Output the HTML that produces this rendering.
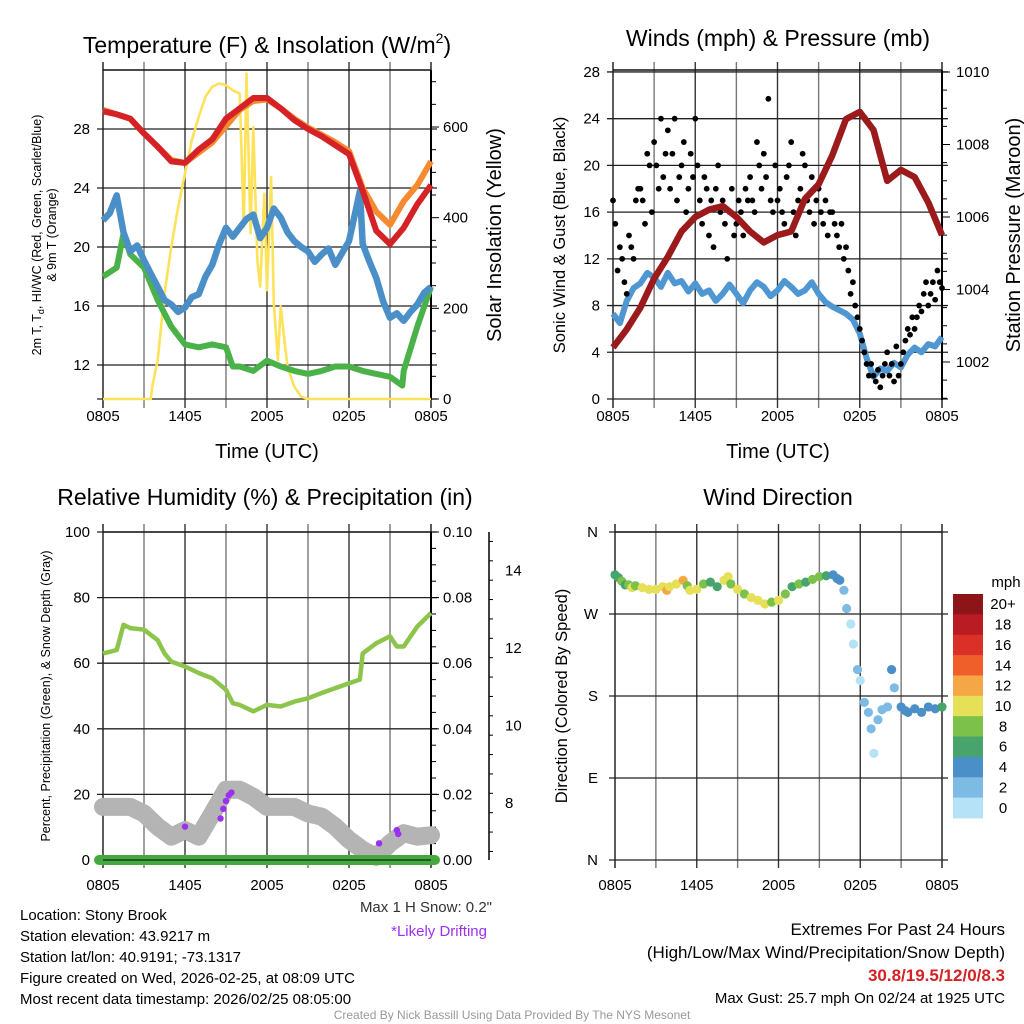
<!DOCTYPE html>
<html><head><meta charset="utf-8"><style>
html,body{margin:0;padding:0;background:#fff;}
svg{display:block;font-family:"Liberation Sans",Arial,sans-serif;}
</style></head><body>
<svg id="c" width="1024" height="1024" viewBox="0 0 1024 1024" xmlns="http://www.w3.org/2000/svg"></svg>
<script>
// ---------- data ----------
const hours = [0,1,2,3,4,5,6,7,8,9,10,11,12,13,14,15,16,17,18,19,20,21,22,23,24];
const xTickLabels = ["0805","1405","2005","0205","0805"];
const temp2m = [29.2,29.0,28.7,27.7,26.8,25.8,25.7,26.6,27.3,28.7,29.4,30.1,30.1,29.4,28.6,28.0,27.5,26.9,26.3,23.8,21.1,20.2,21.3,22.9,24.2];
const temp9m = [29.3,29.0,28.7,27.7,26.8,25.9,25.7,26.4,27.1,28.2,29.3,29.9,30.0,29.4,28.7,28.1,27.6,27.1,26.5,24.0,22.4,21.5,23.1,24.2,25.8];
const bluesT = [0,0.5,1,1.5,2,2.5,3,3.5,4,4.5,5,5.5,6,6.5,7,7.5,8,8.5,9,9.5,10,10.5,11,11.5,12,12.5,13,13.5,14,14.5,15,15.5,16,16.5,17,17.5,18,18.5,18.8,19,19.5,20,20.5,21,21.5,22,22.5,23,23.5,24];
const bluesV = [21.8,22.3,23.5,21.0,19.7,20.1,19.1,18.2,17.3,16.4,16.1,15.6,15.9,16.6,16.8,18.0,18.8,20.2,21.3,20.7,21.3,21.9,22.2,20.6,21.3,22.6,22.0,21.0,20.4,20.0,19.7,19.0,19.5,19.9,18.8,19.6,20.4,22.5,23.8,20.2,19.0,17.9,16.3,15.2,15.5,15.0,15.6,16.1,16.9,17.3];
const greenT = [0,1,1.5,2,3,4,5,6,7,8,9,9.5,10,11,12,13,14,15,16,17,18,19,20,21,21.9,22,23,24];
const greenV = [18.0,18.6,20.9,19.5,18.6,16.4,14.6,13.4,13.2,13.4,13.2,11.9,11.9,11.6,12.3,11.9,11.6,11.4,11.6,11.9,11.9,11.6,11.4,11.2,10.6,11.6,14.6,17.3];
const solarT = [0,3,3.5,3.6,4,4.5,5,5.5,6,6.5,7,7.5,8,8.5,9,9.5,10,10.3,10.5,10.8,11,11.3,11.5,11.8,12,12.3,12.5,12.8,13,13.3,13.5,14,14.5,15,24];
const solarV = [0,0,0,27,86,233,336,424,498,571,622,667,689,696,692,681,674,380,718,365,600,306,248,453,240,490,211,86,204,123,71,27,5,0,0];
const pressure = [1002.4,1002.9,1003.5,1004.3,1004.9,1005.6,1006.0,1006.2,1006.3,1006.0,1005.6,1005.3,1005.5,1005.6,1006.5,1006.9,1007.7,1008.7,1008.9,1008.4,1007.0,1007.3,1007.1,1006.4,1005.5];
const windT = [0,0.5,1,1.5,2,2.5,3,3.5,4,4.5,5,5.5,6,6.5,7,7.5,8,8.5,9,9.5,10,10.5,11,11.5,12,12.5,13,13.5,14,14.5,15,15.5,16,16.5,17,17.5,18,18.5,19,19.5,20,20.5,21,21.5,22,22.5,23,23.5,24];
const windSpd = [7.3,6.5,8.4,9.5,9.9,10.8,10.4,9.6,10.8,9.9,10.1,9.2,9.9,9.0,9.3,8.4,9.0,9.8,9.0,8.2,9.3,10.0,9.6,8.8,9.3,10.1,9.6,9.0,9.3,10.0,9.0,8.3,7.9,7.6,7.3,6.8,5.6,3.5,1.9,2.6,2.4,3.1,2.7,3.8,4.4,4.0,4.7,4.5,5.3];
const gusts = [17,15,11,13,12,10, 9,14,13,12,17,18, 18,17,15,21,20,16, 22,20,18,24,19,21, 23,18,21,24,17,19, 20,22,16,18,21,19,
 24,20,17,15,19,18, 14,17,13,18,20,16, 17,15,12,16,18,14, 15,17,16,14,18,17, 19,17,16,22,20,18, 21,19,25.7,17,16,20,
 17,18,16,15,19,20, 22,16,14,17,18,21, 20,17,16,19,15,17, 18,16,15,17,14,16, 16,15,14,13,15,12, 13,11,9,10,8,7,
 6,5,4,3,2,3, 2,1.5,2.5,1,2,3, 4,2,3,1.5,4.5,2, 3,4,5,6,5.5,7, 6,7,8,7.5,9,10, 8,9,10,8.5,11,10, 9.5];
const rhT = [0,1,1.5,2,3,4,4.5,5,6,7,8,9,9.5,10,11,12,13,14,15,16,17,18,18.8,19,20,21,21.5,22,23,24];
const rhV = [63,64,71.7,70.7,70.2,67,63,60.5,59,57,55.4,51.9,47.8,47.3,45.3,47.3,46.8,48.3,49.3,50.9,52.4,53.9,55,63,66.1,68.2,65.1,65.1,71.2,75.3];
const snowDepth = [7.9,7.9,7.9,7.73,7.39,7.13,7.3,7.13,7.73,8.34,8.34,8.16,7.9,7.9,7.9,7.73,7.65,7.39,7.05,6.79,6.61,6.96,7.22,7.13,7.17];
const driftT = [6,8.6,8.8,9,9.2,9.4,20.2,21.5,21.6];
const driftV = [7.39,7.6,7.85,8.05,8.2,8.27,6.96,7.3,7.2];
const dirT = [0,0.25,0.5,0.75,1,1.25,1.5,2,2.5,3,3.5,3.8,4,4.5,5,5.3,5.5,6,6.5,7,7.5,8,8.3,8.5,9,9.5,10,10.5,11,11.5,12,12.5,13,13.5,14,14.5,15,15.5,16,16.3,16.5,16.8,17,17.3,17.5,17.8,18,18.3,18.6,18.8,19,19.3,19.6,20,20.3,20.5,21,21.3,21.5,22,22.5,23,23.5,24];
const dirV = [313,310,306,302,302,299,301,299,297,297,300,296,300,303,307,301,296,297,303,305,300,307,311,303,297,292,288,285,281,283,285,292,300,303,305,308,311,312,313,309,307,296,276,259,237,209,197,173,162,144,117,154,165,168,209,189,168,164,162,166,162,168,166,168];
const dirSpd = [6,7,8,6,8,10,9,10,10,11,10,12,10,10,12,9,10,10,8,7,7,10,11,8,10,8,10,10,10,9,10,8,6,8,7,8,8,7,5,4,4,3,2,1,1,3,1,3,2,2,1,3,2,3,4,3,4,4,4,4,4,4,4,6];
const cbLabels = ["20+","18","16","14","12","10","8","6","4","2","0"];
const cbColors = ["#8d1518","#b91c23","#db3027","#ee5f2a","#f5a746","#e6df58","#7cc14a","#48a46d","#4a8fc7","#7ebbe4","#b6e2f8"];

// ---------- helpers ----------
const svg = document.getElementById('c');
const NS = 'http://www.w3.org/2000/svg';
function el(tag, attrs, parent){ const e=document.createElementNS(NS,tag); for(const k in attrs) e.setAttribute(k,attrs[k]); (parent||svg).appendChild(e); return e; }
function txt(s, x, y, size, anchor, extra){ const t=el('text',Object.assign({x:x,y:y,'font-size':size,'text-anchor':anchor||'middle',fill:'#000'},extra||{})); t.textContent=s; return t; }
function spdColor(s){ const i=Math.min(10,Math.floor(s/2)); return cbColors[10-i]; }
function pathOf(ts, vs, X, Y){ return ts.map((t,i)=>(i?'L':'M')+X(t).toFixed(1)+','+Y(vs[i]).toFixed(1)).join(''); }

function frame(x0,x1,y0,y1,name){
  const g=el('g',{});  
  for(let k=0;k<=8;k++){ const x=x0+k*(x1-x0)/8; el('line',{x1:x,x2:x,y1:y0-8,y2:y1+8,stroke:k%2?'#777':'#333','stroke-width':k==0||k==8?1.6:1.4},g); }
  el('line',{x1:x0,x2:x1,y1:y0,y2:y0,stroke:'#111','stroke-width':1.5},g);
  return g;
}
function hlines(g,x0,x1,ys){ ys.forEach(y=>el('line',{x1:x0-6,x2:x1+6,y1:y,y2:y,stroke:'#222','stroke-width':1.3},g)); }
function xLabels(x0,x1,y,name){ xTickLabels.forEach((s,i)=>{ const t=txt(s,x0+i*(x1-x0)/4,y,15);   }); }

// ---------- Panel 1 ----------
{
const x0=103,x1=431,y0=70,y1=400;
const X=h=>x0+h/24*(x1-x0), T=v=>365-(v-12)*14.75, S=v=>399-v*0.4533;
const g=frame(x0,x1,y0,y1,'temperature');
hlines(g,x0,x1,[12,16,20,24,28].map(T).concat([399]));
el('line',{x1:x1,x2:x1,y1:y0,y2:y1,stroke:'#000','stroke-width':2},g);
for(let v=0;v<=700;v+=50){ el('line',{x1:x1,x2:x1+(v%200==0?8:5),y1:S(v),y2:S(v),stroke:'#000','stroke-width':1},g); }
const sol=el('path',{d:pathOf(solarT,solarV,X,S),fill:'none',stroke:'#fde25a','stroke-width':2.6,'stroke-linejoin':'round'});
 
const gr=el('path',{d:pathOf(greenT,greenV,X,T),fill:'none',stroke:'#4bb24a','stroke-width':6,'stroke-linejoin':'round'});
 
const bl=el('path',{d:pathOf(bluesT,bluesV,X,T),fill:'none',stroke:'#4a8fc7','stroke-width':6.5,'stroke-linejoin':'round'});
 
const or=el('path',{d:pathOf(hours,temp9m,X,T),fill:'none',stroke:'#f58a30','stroke-width':6,'stroke-linejoin':'round'});
 
const rd=el('path',{d:pathOf(hours,temp2m,X,T),fill:'none',stroke:'#d42226','stroke-width':6,'stroke-linejoin':'round'});
 
[12,16,20,24,28].forEach(v=>{const t=txt(String(v),x0-13,T(v)+5,15,'end');  });
[0,200,400,600].forEach(v=>{const t=txt(String(v),x1+12,S(v)+5,15,'start');  });
xLabels(x0,x1,421,'temperature');
let t=txt('Time (UTC)',267,458,20);  
t=el('text',{x:267,y:53,'font-size':23,'text-anchor':'middle'}); t.innerHTML='Temperature (F) &amp; Insolation (W/m<tspan font-size="14" dy="-10">2</tspan><tspan dy="10">)</tspan>';
 
t=el('text',{transform:'translate(41,235) rotate(-90)','font-size':12.5,'text-anchor':'middle'}); t.innerHTML='2m T, T<tspan font-size="9" dy="3">d</tspan><tspan dy="-3">, HI/WC (Red, Green, Scarlet/Blue)</tspan>';
 
t=txt('& 9m T (Orange)',0,0,12.5,'middle',{transform:'translate(56,235) rotate(-90)'});  
t=txt('Solar Insolation (Yellow)',0,0,20,'middle',{transform:'translate(501,235) rotate(-90)'});  
}

// ---------- Panel 2 ----------
{
const x0=613,x1=942,y0=70,y1=400;
const X=h=>x0+h/24*(x1-x0), W=v=>399-v*11.68, P=v=>362-(v-1002)*36.25;
const g=frame(x0,x1,y0,y1,'winds');
hlines(g,x0,x1,[0,4,8,12,16,20,24,28].map(W));
el('line',{x1:x1,x2:x1,y1:y0,y2:y1,stroke:'#000','stroke-width':2},g);
for(let v=1001;v<=1010;v+=0.5){ el('line',{x1:x1,x2:x1+(v%2==0?8:5),y1:P(v),y2:P(v),stroke:'#000','stroke-width':1},g); }
const ws=el('path',{d:pathOf(windT,windSpd,X,W),fill:'none',stroke:'#4f97d2','stroke-width':6,'stroke-linejoin':'round'});
 
const gg=el('g',{});  
gusts.forEach((v,i)=>{ const c=el('circle',{cx:X(i/6),cy:W(v),r:2.9,fill:'#000'},gg);
  
   });
const pr=el('path',{d:pathOf(hours,pressure,X,P),fill:'none',stroke:'#9b1a1c','stroke-width':6.5,'stroke-linejoin':'round'});
 
[0,4,8,12,16,20,24,28].forEach(v=>{const t=txt(String(v),x0-13,W(v)+5,15,'end');  });
[1002,1004,1006,1008,1010].forEach(v=>{const t=txt(String(v),x1+14,P(v)+5,15,'start');  });
xLabels(x0,x1,421,'winds');
let t=txt('Time (UTC)',778,458,20);  
t=txt('Winds (mph) & Pressure (mb)',778,46,23);  
t=txt('Sonic Wind & Gust (Blue, Black)',0,0,16.5,'middle',{transform:'translate(565,235) rotate(-90)'});  
t=txt('Station Pressure (Maroon)',0,0,20,'middle',{transform:'translate(1020,235) rotate(-90)'});  
}

// ---------- Panel 3 ----------
{
const x0=103,x1=431,y0=532,y1=860;
const X=h=>x0+h/24*(x1-x0), R=v=>860-v*3.28, D=v=>803-(v-8)*38.75;
const g=frame(x0,x1,y0,y1,'humidity');
hlines(g,x0,x1,[20,40,60,80,100].map(R));
el('line',{x1:x1,x2:x1,y1:y0,y2:y1,stroke:'#000','stroke-width':2},g);
for(let v=0;v<=100;v+=5){ el('line',{x1:x1,x2:x1+(v%20==0?8:5),y1:R(v),y2:R(v),stroke:'#000','stroke-width':1},g); }
el('line',{x1:489,x2:489,y1:y0,y2:y1,stroke:'#000','stroke-width':1.5},g);
for(let v=6.75;v<=15;v+=0.5){ const y=D(v); if(y>=y0&&y<=y1) el('line',{x1:489,x2:489+(v%2==0?8:4),y1:y,y2:y,stroke:'#000','stroke-width':1},g); }
const sn=el('path',{d:pathOf(hours,snowDepth,X,D),fill:'none',stroke:'#b4b4b4','stroke-width':18,'stroke-linejoin':'round','stroke-linecap':'round'});
 
const dg=el('g',{});  
driftT.forEach((h,i)=>{ const c=el('circle',{cx:X(h),cy:D(driftV[i]),r:3.2,fill:'#9b30f0'},dg);
  
   });
const rh=el('path',{d:pathOf(rhT,rhV,X,R),fill:'none',stroke:'#8dc54c','stroke-width':4.5,'stroke-linejoin':'round'});
 
const pc=el('line',{x1:X(0)-4,x2:X(24)+4,y1:R(0),y2:R(0),stroke:'#44aa3f','stroke-width':10,'stroke-linecap':'round'});
 
el('line',{x1:x0,x2:x1,y1:860,y2:860,stroke:'#222','stroke-width':1.3},g.parentNode);
[0,20,40,60,80,100].forEach(v=>{const t=txt(String(v),x0-13,R(v)+5,15,'end');  });
["0.00","0.02","0.04","0.06","0.08","0.10"].forEach((s,i)=>{const t=txt(s,x1+12,R(i*20)+5,15,'start');  });
[8,10,12,14].forEach(v=>{const t=txt(String(v),505,D(v)+5,15,'start');  });
xLabels(x0,x1,890,'humidity');
let t=txt('Relative Humidity (%) & Precipitation (in)',265,505,23);  
t=txt('Percent, Precipitation (Green), & Snow Depth (Gray)',0,0,12.5,'middle',{transform:'translate(50,696) rotate(-90)'});  
t=txt('Max 1 H Snow: 0.2"',492,912,15,'end',{fill:'#333'});  
t=txt('*Likely Drifting',487,936,15,'end',{fill:'#9b30f0'});  
}

// ---------- Panel 4 ----------
{
const x0=615,x1=942,y0=532,y1=860;
const X=h=>x0+h/24*(x1-x0), Dr=d=>860-d*0.9111;
const g=frame(x0,x1,y0,y1,'direction');
hlines(g,x0,x1,[0,90,180,270,360].map(Dr));
const pg=el('g',{});  
dirT.forEach((h,i)=>{ const c=el('circle',{cx:X(h),cy:Dr(dirV[i]),r:4.6,fill:spdColor(dirSpd[i])},pg);
  
   });
["N","E","S","W","N"].forEach((s,i)=>{const t=txt(s,x0-17,Dr(i*90)+5,15,'end');  });
xLabels(x0,x1,890,'direction');
let t=txt('Wind Direction',778,505,23);  
t=txt('Direction (Colored By Speed)',0,0,16.5,'middle',{transform:'translate(567,696) rotate(-90)'});  
const cb=el('g',{});  
const bh=224/cbColors.length;
cbColors.forEach((c,i)=>{ const r=el('rect',{x:953,y:594+i*bh,width:30,height:bh+0.4,fill:c},cb);
  
   });
cbLabels.forEach((s,i)=>{const t=txt(s,1003,594+i*bh+bh/2+5,15,'middle');  });
t=txt('mph',1006,587,15,'middle');  
}

// ---------- Footer ----------
{
const left=["Location: Stony Brook","Station elevation: 43.9217 m","Station lat/lon: 40.9191; -73.1317","Figure created on Wed, 2026-02-25, at 08:09 UTC","Most recent data timestamp: 2026/02/25 08:05:00"];
const names=["location-text","elevation-text","latlon-text","created-text","timestamp-text"];
left.forEach((s,i)=>{const t=txt(s,20,920+i*21,15,'start');  });
let t=txt('Extremes For Past 24 Hours',1005,935,17,'end');  
t=txt('(High/Low/Max Wind/Precipitation/Snow Depth)',1005,958,17,'end');  
t=txt('30.8/19.5/12/0/8.3',1005,981,17,'end',{fill:'#d42226','font-weight':'bold'});  
t=txt('Max Gust: 25.7 mph On 02/24 at 1925 UTC',1005,1003,15,'end');  
t=txt('Created By Nick Bassill Using Data Provided By The NYS Mesonet',512,1019,12,'middle',{fill:'#999'});  
}
</script>
</body></html>
